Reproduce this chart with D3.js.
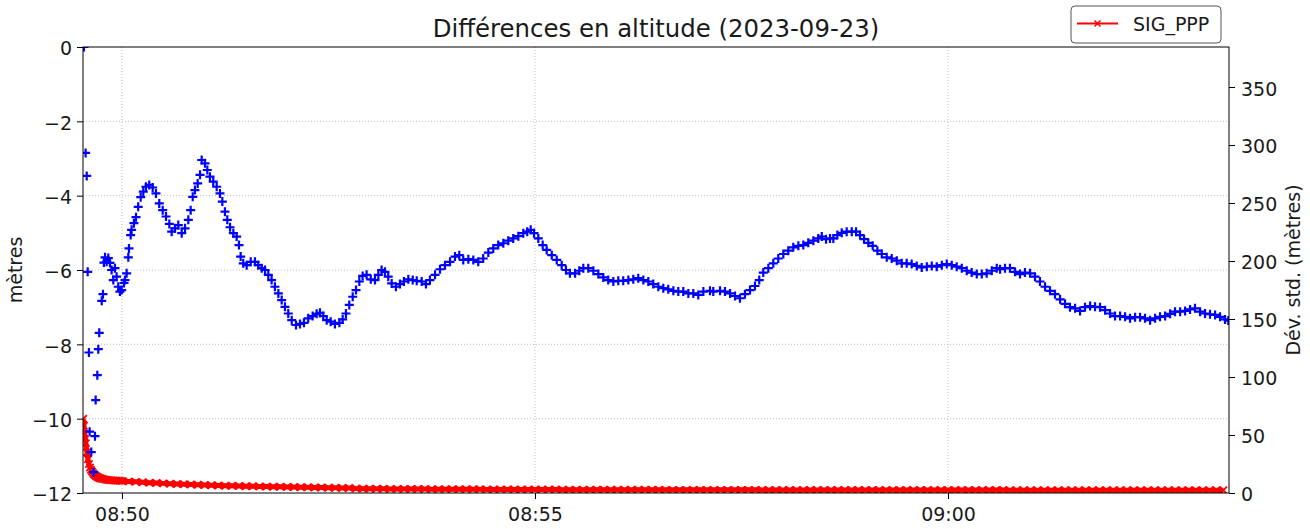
<!DOCTYPE html>
<html>
<head>
<meta charset="utf-8">
<script src="https://cdn.jsdelivr.net/npm/d3@7"></script>
<style>
  body { margin: 0; background: #fff; }
  svg { font-family: "DejaVu Sans", sans-serif; }
</style>
</head>
<body>
<svg></svg>
<script>
var width = 1310;
var height = 529;
var plot = {left: 83, right: 1229, top: 47, bottom: 493};

// time is given in seconds after 08:49:00
var timeDomain = [31.7, 864.1];
var xTickLabels = ['08:50', '08:55', '09:00'];
var leftTicks = [0, -2, -4, -6, -8, -10, -12];
var rightTicks = [0, 50, 100, 150, 200, 250, 300, 350];
var rightMax = 384.5;

// altitude difference (mètres), left axis
var altitude = [
[32.4,0.0],[33.6,-2.85],[34.4,-3.47],[35.1,-6.05],[36.0,-8.22],[36.5,-10.35],[37.7,-10.9],[39.4,-11.44],[40.4,-10.47],[40.9,-9.5],
[42.1,-8.83],[42.8,-8.13],[43.5,-7.69],[45.3,-6.83],[46.2,-6.65],[46.9,-5.80],[47.7,-5.66],[48.9,-5.78],[50.1,-5.68],[51.3,-5.81],
[52.5,-6.0],[53.7,-6.27],[54.9,-5.95],[56.1,-6.18],[57.3,-6.45],[58.5,-6.58],[59.8,-6.54],[61.5,-6.35],[62.2,-6.27],[63.4,-6.09],
[64.6,-5.66],[65.1,-5.42],[66.3,-5.06],[67.0,-4.92],[68.7,-4.74],[70.2,-4.58],[71.8,-4.30],[73.6,-4.04],[75.5,-3.89],[77.4,-3.76],
[79.8,-3.71],[82.3,-3.78],[84.7,-3.94],[87.1,-4.21],[89.6,-4.39],[92.0,-4.56],[94.4,-4.76],[96.1,-4.97],[98.5,-4.88],[100.9,-4.79],
[103.4,-5.01],[105.8,-4.88],[108.2,-4.65],[109.9,-4.39],[111.4,-4.03],[113.0,-3.85],[115.0,-3.67],[116.7,-3.44],[117.9,-3.04],[120.3,-3.13],
[122.0,-3.31],[123.9,-3.49],[126.3,-3.62],[128.8,-3.76],[131.2,-3.94],[132.9,-4.16],[134.8,-4.43],[136.5,-4.65],[138.5,-4.85],[140.9,-5.01],
[143.3,-5.10],[145.0,-5.33],[146.2,-5.64],[148.1,-5.82],[150.6,-5.87],[153.5,-5.78],[156.6,-5.78],[159.0,-5.87],[161.5,-5.95],[163.9,-6.00],
[166.3,-6.13],[168.7,-6.27],[171.1,-6.45],[173.6,-6.63],[176.0,-6.81],[178.4,-6.99],[180.8,-7.17],[183.3,-7.35],[186.4,-7.48],[189.3,-7.45],
[192.2,-7.42],[195.3,-7.30],[198.5,-7.24],[201.4,-7.18],[203.8,-7.15],[206.2,-7.24],[208.7,-7.35],[211.6,-7.39],[214.7,-7.45],[217.9,-7.42],
[220.3,-7.33],[222.7,-7.17],[225.1,-6.94],[227.6,-6.72],[230.0,-6.54],[232.4,-6.31],[234.8,-6.16],[237.7,-6.13],[240.7,-6.25],[243.8,-6.27],
[246.2,-6.13],[248.6,-6.00],[251.0,-6.05],[253.4,-6.18],[255.9,-6.36],[259.0,-6.45],[261.9,-6.38],[264.8,-6.31],[268.0,-6.25],[271.2,-6.27],
[274.1,-6.29],[277.7,-6.31],[280.8,-6.38],[283.7,-6.27],[287.4,-6.13],[291.0,-5.98],[294.6,-5.87],[298.3,-5.78],[301.9,-5.64],[305.0,-5.60],
[307.9,-5.73],[311.6,-5.71],[315.2,-5.73],[318.8,-5.78],[322.4,-5.69],[326.1,-5.53],[329.7,-5.42],[333.3,-5.33],[337.0,-5.28],[340.6,-5.21],
[344.2,-5.15],[347.9,-5.09],[351.5,-5.01],[354.4,-4.97],[356.9,-4.92],[359.3,-5.01],[362.4,-5.15],[365.6,-5.33],[368.5,-5.46],[372.2,-5.60],
[375.8,-5.73],[379.4,-5.87],[382.5,-6.00],[385.4,-6.09],[389.1,-6.09],[392.2,-6.02],[395.1,-5.95],[398.7,-5.95],[402.4,-6.02],[406.0,-6.11],
[409.6,-6.20],[413.2,-6.27],[416.9,-6.31],[420.5,-6.29],[424.1,-6.29],[427.8,-6.27],[431.4,-6.25],[435.0,-6.22],[438.7,-6.27],[442.3,-6.31],
[445.9,-6.38],[449.6,-6.45],[453.2,-6.49],[456.8,-6.52],[460.5,-6.56],[464.1,-6.58],[467.7,-6.58],[471.4,-6.63],[475.0,-6.63],[478.6,-6.67],
[482.3,-6.58],[487.1,-6.56],[489.5,-6.58],[494.4,-6.56],[498.0,-6.58],[501.7,-6.63],[505.3,-6.70],[508.9,-6.76],[512.5,-6.65],[516.2,-6.54],
[519.8,-6.43],[522.9,-6.27],[525.8,-6.07],[529.5,-5.95],[533.1,-5.82],[536.7,-5.69],[540.4,-5.57],[544.0,-5.48],[547.6,-5.39],[551.3,-5.35],
[554.9,-5.33],[558.5,-5.27],[562.2,-5.21],[565.8,-5.15],[568.3,-5.10],[571.4,-5.17],[574.3,-5.15],[576.7,-5.15],[579.6,-5.06],[582.8,-5.00],
[586.4,-4.97],[590.1,-4.97],[593.2,-4.97],[596.1,-5.06],[599.0,-5.17],[602.1,-5.27],[605.3,-5.35],[608.7,-5.48],[611.9,-5.57],[615.5,-5.66],
[619.1,-5.69],[622.8,-5.75],[626.4,-5.82],[630.0,-5.82],[633.6,-5.84],[637.3,-5.89],[640.9,-5.93],[644.6,-5.91],[648.2,-5.89],[651.8,-5.91],
[655.5,-5.87],[659.1,-5.84],[662.7,-5.87],[666.3,-5.91],[670.0,-5.95],[673.6,-6.02],[677.2,-6.07],[680.9,-6.11],[684.5,-6.11],[688.1,-6.09],
[691.8,-6.02],[695.4,-5.95],[697.8,-5.98],[701.4,-5.95],[705.0,-5.95],[708.7,-6.05],[712.3,-6.11],[715.9,-6.07],[719.6,-6.09],[723.2,-6.18],
[726.8,-6.31],[730.5,-6.45],[734.1,-6.56],[737.7,-6.65],[741.4,-6.79],[745.0,-6.91],[748.6,-7.00],[752.3,-7.03],[755.9,-7.10],[759.5,-7.00],
[763.2,-6.97],[766.8,-6.99],[770.4,-7.00],[774.1,-7.08],[777.7,-7.17],[781.3,-7.24],[785.0,-7.24],[788.6,-7.26],[792.2,-7.30],[795.9,-7.27],
[799.5,-7.27],[803.1,-7.30],[806.8,-7.35],[810.4,-7.30],[814.0,-7.26],[817.7,-7.24],[821.3,-7.18],[824.9,-7.12],[828.6,-7.12],[832.2,-7.10],
[835.8,-7.06],[839.4,-7.03],[843.1,-7.12],[846.7,-7.17],[850.3,-7.19],[854.0,-7.21],[857.6,-7.26],[861.2,-7.33],[863.6,-7.36]
];

// SIG_PPP standard deviation (mètres), right axis
var sigPPP = [
[31.9,64],[32.4,58],[33.1,51],[33.8,43],[34.6,35],[35.3,29],[36.0,25],[36.8,22],[37.5,20],[38.2,18.5],
[39.0,17.2],[39.7,16.2],[40.4,15.4],[41.1,14.7],[41.8,14.1],[42.6,13.6],[43.3,13.2],[44.0,12.8],[44.7,12.5],[45.5,12.2],
[46.9,11.8],[48.4,11.5],[49.8,11.2],[51.3,11.0],[52.7,10.9],[54.2,10.8],[55.6,10.7],[57.1,10.6],[58.5,10.5],
[60,10.4],[65,10.0],[70,9.6],[75,9.2],[80,8.9],[85,8.6],[90,8.3],[95,8.0],[100,7.7],[105,7.5],
[110,7.3],[115,7.1],[120,6.9],[125,6.7],[130,6.5],[135,6.3],[140,6.2],[145,6.0],[150,5.9],[155,5.8],
[160,5.6],[165,5.5],[170,5.4],[175,5.3],[180,5.2],[185,5.1],[190,5.0],[195,4.9],[200,4.8],[205,4.7],
[210,4.6],[215,4.5],[220,4.4],[225,4.3],[230,3.8],[235,3.7],[240,3.7],[245,3.6],[250,3.6],[255,3.5],
[260,3.5],[265,3.5],[270,3.4],[275,3.4],[280,3.4],[285,3.3],[290,3.3],[295,3.3],[300,3.3],[305,3.2],
[310,3.2],[315,3.2],[320,3.2],[325,3.1],[330,3.1],[335,3.1],[340,3.1],[345,3.1],[350,3.0],[355,3.0],
[360,3.0],[365,3.0],[370,3.0],[375,3.0],[380,2.9],[385,2.9],[390,2.9],[395,2.9],[400,2.9],[405,2.9],
[410,2.9],[415,2.8],[420,2.8],[425,2.8],[430,2.8],[435,2.8],[440,2.8],[445,2.8],[450,2.8],[455,2.7],
[460,2.7],[465,2.7],[470,2.7],[475,2.7],[480,2.7],[485,2.7],[490,2.7],[495,2.7],[500,2.7],[505,2.7],
[510,2.7],[515,2.7],[520,2.7],[525,2.6],[530,2.6],[535,2.6],[540,2.6],[545,2.6],[550,2.6],[555,2.6],
[560,2.6],[565,2.6],[570,2.6],[575,2.6],[580,2.6],[585,2.6],[590,2.6],[595,2.6],[600,2.6],[605,2.5],
[610,2.5],[615,2.5],[620,2.5],[625,2.5],[630,2.5],[635,2.5],[640,2.5],[645,2.5],[650,2.5],[655,2.5],
[660,2.5],[665,2.5],[670,2.5],[675,2.5],[680,2.5],[685,2.5],[690,2.5],[695,2.5],[700,2.5],[705,2.4],
[710,2.4],[715,2.4],[720,2.4],[725,2.4],[730,2.4],[735,2.4],[740,2.4],[745,2.4],[750,2.4],[755,2.4],
[760,2.4],[765,2.4],[770,2.4],[775,2.4],[780,2.4],[785,2.4],[790,2.4],[795,2.4],[800,2.4],[805,2.4],
[810,2.4],[815,2.4],[820,2.4],[825,2.4],[830,2.4],[835,2.4],[840,2.4],[845,2.4],[850,2.4],[855,2.4],
[860,2.4]
];

function at(sec) {
	return new Date(2023, 8, 23, 8, 49, 0, Math.round(sec * 1000));
}
var parseHM = d3.timeParse('%Y-%m-%d %H:%M');

var svg = d3.select('svg')
			.attr('width', width)
			.attr('height', height);

var xScale = d3.scaleTime()
			   .domain(timeDomain.map(at))
			   .range([plot.left, plot.right]);
var yLeft = d3.scaleLinear()
			  .domain([-12, 0])
			  .range([plot.bottom, plot.top]);
var yRight = d3.scaleLinear()
			   .domain([0, rightMax])
			   .range([plot.bottom, plot.top]);

var xTicks = xTickLabels.map(t => parseHM('2023-09-23 ' + t));

svg.append('defs')
   .append('clipPath')
     .attr('id', 'clip')
   .append('rect')
     .attr('x', plot.left)
     .attr('y', plot.top)
     .attr('width', plot.right - plot.left)
     .attr('height', plot.bottom - plot.top);

// grid
var grid = svg.append('g')
			  .attr('stroke', '#b0b0b0')
			  .attr('stroke-width', 0.8)
			  .attr('stroke-dasharray', '1,2');
grid.selectAll('.gy')
	.data(leftTicks.filter(d => d !== 0 && d !== -12))
	.enter()
	.append('line')
	  .attr('x1', plot.left)
	  .attr('x2', plot.right)
	  .attr('y1', d => yLeft(d))
	  .attr('y2', d => yLeft(d));
grid.selectAll('.gx')
	.data(xTicks)
	.enter()
	.append('line')
	  .attr('y1', plot.top)
	  .attr('y2', plot.bottom)
	  .attr('x1', d => xScale(d))
	  .attr('x2', d => xScale(d));

var marks = svg.append('g').attr('clip-path', 'url(#clip)');

// SIG_PPP line with x markers
var line = d3.line()
			 .x(d => xScale(at(d[0])))
			 .y(d => yRight(d[1]));
marks.append('path')
	 .datum(sigPPP)
	 .attr('fill', 'none')
	 .attr('stroke', '#ff0000')
	 .attr('stroke-width', 5)
	 .attr('stroke-linejoin', 'round')
	 .attr('d', line);
marks.selectAll('.xmark')
	 .data(sigPPP)
	 .enter()
	 .append('path')
	   .attr('transform', d => `translate(${xScale(at(d[0]))},${yRight(d[1])})`)
	   .attr('d', 'M-3.6,-3.6L3.6,3.6M-3.6,3.6L3.6,-3.6')
	   .attr('stroke', '#ff0000')
	   .attr('stroke-width', 1.8);

// altitude + markers
marks.selectAll('.pmark')
	 .data(altitude)
	 .enter()
	 .append('path')
	   .attr('transform', d => `translate(${xScale(at(d[0]))},${yLeft(d[1])})`)
	   .attr('d', 'M-4.5,0H4.5M0,-4.5V4.5')
	   .attr('stroke', '#0000ff')
	   .attr('stroke-width', 2.2);

// axes
var fontSize = 19;
function styleAxis(g) {
	g.select('.domain').remove();
	g.selectAll('.tick line').attr('stroke', '#000').attr('stroke-width', 1);
	g.selectAll('.tick text').attr('fill', '#1a1a1a').attr('font-size', fontSize + 'px')
	 .attr('font-family', '"DejaVu Sans", sans-serif');
}

svg.append('g')
	.attr('transform', `translate(0, ${plot.bottom})`)
	.call(d3.axisBottom(xScale)
			.tickValues(xTicks)
			.tickFormat(d3.timeFormat('%H:%M'))
			.tickSize(6)
			.tickPadding(9))
	.call(styleAxis);

svg.append('g')
	.attr('transform', `translate(${plot.left}, 0)`)
	.call(d3.axisLeft(yLeft)
			.tickValues(leftTicks)
			.tickFormat(d3.format('d'))
			.tickSize(6)
			.tickPadding(5))
	.call(styleAxis)
	.selectAll('.tick text').attr('dy', '0.42em');

svg.append('g')
	.attr('transform', `translate(${plot.right}, 0)`)
	.call(d3.axisRight(yRight)
			.tickValues(rightTicks)
			.tickFormat(d3.format('d'))
			.tickSize(6)
			.tickPadding(6))
	.call(styleAxis)
	.selectAll('.tick text').attr('dy', '0.42em');

svg.append('rect')
	.attr('x', plot.left)
	.attr('y', plot.top)
	.attr('width', plot.right - plot.left)
	.attr('height', plot.bottom - plot.top)
	.attr('fill', 'none')
	.attr('stroke', '#000')
	.attr('stroke-width', 1);

// texts
svg.append('text')
	.attr('x', (plot.left + plot.right) / 2)
	.attr('y', 37)
	.attr('text-anchor', 'middle')
	.attr('font-size', '24.4px')
	.attr('fill', '#1a1a1a')
	.text('Différences en altitude (2023-09-23)');

svg.append('text')
	.attr('transform', `translate(22, ${(plot.top + plot.bottom) / 2}) rotate(-90)`)
	.attr('text-anchor', 'middle')
	.attr('font-size', fontSize + 'px')
	.attr('fill', '#1a1a1a')
	.text('mètres');

svg.append('text')
	.attr('transform', `translate(1300, ${(plot.top + plot.bottom) / 2}) rotate(-90)`)
	.attr('text-anchor', 'middle')
	.attr('font-size', fontSize + 'px')
	.attr('fill', '#1a1a1a')
	.text('Dév. std. (mètres)');

// legend
var legend = svg.append('g');
legend.append('rect')
	  .attr('x', 1071)
	  .attr('y', 6)
	  .attr('width', 150)
	  .attr('height', 37)
	  .attr('rx', 4)
	  .attr('fill', '#fff')
	  .attr('stroke', '#555')
	  .attr('stroke-width', 1);
legend.append('line')
	  .attr('x1', 1077)
	  .attr('x2', 1118)
	  .attr('y1', 23.5)
	  .attr('y2', 23.5)
	  .attr('stroke', '#ff0000')
	  .attr('stroke-width', 2);
legend.append('path')
	  .attr('transform', 'translate(1097.5,23.5)')
	  .attr('d', 'M-3,-3L3,3M-3,3L3,-3')
	  .attr('stroke', '#ff0000')
	  .attr('stroke-width', 1.5);
legend.append('text')
	  .attr('x', 1133)
	  .attr('y', 31)
	  .attr('font-size', fontSize + 'px')
	  .attr('fill', '#1a1a1a')
	  .text('SIG_PPP');
</script>
</body>
</html>
